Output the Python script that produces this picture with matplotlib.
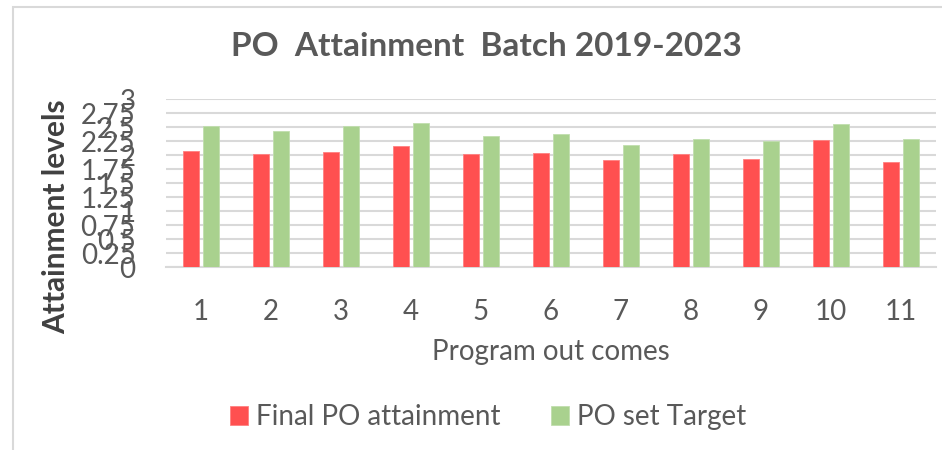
import matplotlib
matplotlib.use("Agg")
import matplotlib.pyplot as plt
import numpy as np
from matplotlib.patches import Rectangle

categories = ["1", "2", "3", "4", "5", "6", "7", "8", "9", "10", "11"]
final_po = [2.08, 2.02, 2.06, 2.16, 2.03, 2.04, 1.91, 2.02, 1.94, 2.27, 1.88]
po_target = [2.53, 2.44, 2.52, 2.57, 2.34, 2.38, 2.18, 2.29, 2.25, 2.55, 2.29]
yticks = [0, 0.25, 0.5, 0.75, 1, 1.25, 1.5, 1.75, 2, 2.25, 2.5, 2.75, 3]
ytick_labels = ["0", "0.25", "0.5", "0.75", "1", "1.25", "1.5", "1.75", "2", "2.25", "2.5", "2.75", "3"]

FONT = ["Lato", "DejaVu Sans"]
TXT = "#595959"
RED = "#FF5050"
GREEN = "#A9D18E"

plt.rcParams['font.family'] = FONT

fig = plt.figure(figsize=(9.42, 4.5), dpi=100)
fig.patches.append(Rectangle((13/942, -0.1), 1.2, (450-7)/450 + 0.1, transform=fig.transFigure,
                             fill=False, edgecolor="#D9D9D9", linewidth=1.5))

ax = fig.add_axes([166/942, (450-267)/450, (936-166)/942, (267-99.3)/450])
x = np.arange(len(categories))
w = 0.23
off = 0.143
ax.bar(x - off, final_po, width=w, color=RED, edgecolor="#FF8080", linewidth=0.6, label="Final PO attainment", zorder=3)
ax.bar(x + off, po_target, width=w, color=GREEN, edgecolor="#C0DEAE", linewidth=0.6, label="PO set Target", zorder=3)

ax.set_xlim(-0.5, len(categories) - 0.5)
ax.set_ylim(0, 3)
ax.set_yticks(yticks)
ax.set_yticklabels(ytick_labels)
ax.set_xticks(x)
ax.set_xticklabels(categories)
ax.yaxis.grid(True, color="#D9D9D9", linewidth=1.5, zorder=0)
ax.set_axisbelow(True)
for s in ["top", "right", "left"]:
    ax.spines[s].set_visible(False)
ax.spines["bottom"].set_color("#D9D9D9")
ax.spines["bottom"].set_linewidth(1.5)
ax.tick_params(axis="both", length=0, colors=TXT, labelsize=20)
ax.tick_params(axis="y", pad=22)
ax.tick_params(axis="x", pad=23)

fig.text(486/942, 1 - 47/450, "PO  Attainment  Batch 2019-2023", ha="center", va="center",
         fontsize=24, fontweight="bold", color=TXT)
fig.text(551/942, 1 - 352/450, "Program out comes", ha="center", va="center", fontsize=20, color=TXT)
fig.text(56/942, 1 - 217/450, "Attainment levels", ha="center", va="center", rotation=90,
         fontsize=21.5, fontweight="bold", color="#404040")

leg = fig.legend(loc="center", bbox_to_anchor=(488/942, 1 - 417/450), ncol=2, frameon=False,
                 fontsize=20, handlelength=0.65, handleheight=0.7, handletextpad=0.3, columnspacing=1.8)
for t in leg.get_texts():
    t.set_color(TXT)

fig.savefig("out.png", dpi=100)
